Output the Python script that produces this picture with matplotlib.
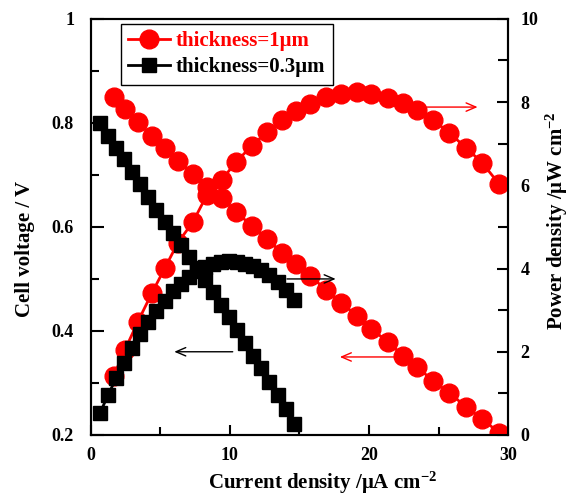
import numpy as np
import matplotlib
matplotlib.use("Agg")
import matplotlib.pyplot as plt
from matplotlib.ticker import MultipleLocator, FuncFormatter

plt.rcParams['font.family'] = ['Liberation Serif', 'DejaVu Serif']
plt.rcParams['font.weight'] = 'bold'
plt.rcParams['mathtext.fontset'] = 'custom'
plt.rcParams['mathtext.rm'] = 'Liberation Serif:bold'
plt.rcParams['mathtext.bf'] = 'Liberation Serif:bold'
plt.rcParams['mathtext.default'] = 'rm'

# thickness = 1 um (red circles)
i_thick = [1.65, 2.45, 3.38, 4.39, 5.32, 6.26, 7.34, 8.35, 9.42, 10.43, 11.58, 12.66, 13.74, 14.75,
           15.76, 16.91, 17.99, 19.14, 20.14, 21.37, 22.45, 23.45, 24.60, 25.76, 26.98, 28.13, 29.35]
v_thick = [0.850, 0.827, 0.802, 0.775, 0.752, 0.727, 0.702, 0.677, 0.656, 0.629, 0.602, 0.577, 0.550, 0.529,
           0.506, 0.479, 0.454, 0.429, 0.404, 0.379, 0.352, 0.331, 0.304, 0.281, 0.254, 0.231, 0.204]
p_thick = [1.42, 2.04, 2.72, 3.41, 4.01, 4.62, 5.12, 5.77, 6.13, 6.56, 6.95, 7.28, 7.57, 7.79,
           7.96, 8.13, 8.20, 8.25, 8.20, 8.10, 7.98, 7.81, 7.57, 7.26, 6.90, 6.54, 6.03]

# thickness = 0.3 um (black squares)
i_thin = [0.65, 1.23, 1.81, 2.39, 2.97, 3.55, 4.14, 4.72, 5.30, 5.88, 6.46, 7.04, 7.62,
          8.20, 8.78, 9.36, 9.94, 10.52, 11.10, 11.68, 12.26, 12.84, 13.42, 14.00, 14.60]
v_thin = [0.800, 0.775, 0.752, 0.730, 0.705, 0.682, 0.658, 0.633, 0.610, 0.588, 0.566, 0.543, 0.521,
          0.498, 0.474, 0.450, 0.426, 0.401, 0.377, 0.352, 0.328, 0.302, 0.277, 0.250, 0.222]
p_thin = [0.52, 0.95, 1.36, 1.74, 2.09, 2.42, 2.72, 2.99, 3.23, 3.45, 3.64, 3.80, 3.94,
          4.03, 4.10, 4.15, 4.17, 4.16, 4.12, 4.06, 3.96, 3.84, 3.68, 3.48, 3.25]

fig = plt.figure(figsize=(5.71, 4.96), dpi=100)
ax = fig.add_axes([0.159, 0.123, 0.731, 0.839])
ax2 = ax.twinx()

red = '#ff0000'
l1, = ax2.plot(i_thick, v_thick, '-o', color=red, ms=13.5, lw=2, transform=ax.transData, zorder=2,
               label='thickness=1\u03bcm')
ax2.plot(i_thick, p_thick, '-o', color=red, ms=13.5, lw=2, zorder=2)
l2, = ax2.plot(i_thin, v_thin, '-s', color='black', ms=9.5, lw=2, transform=ax.transData, zorder=3,
               label='thickness=0.3\u03bcm')
ax2.plot(i_thin, p_thin, '-s', color='black', ms=9.5, lw=2, zorder=3)
ax.set_xlim(0, 30)
ax.set_ylim(0.2, 1.0)
ax2.set_ylim(0, 10)

# arrows pointing at the axis each curve belongs to
arr = dict(arrowstyle='->, head_length=0.7, head_width=0.3', lw=1)
ax2.annotate('', xy=(28.0, 7.88), xytext=(23.9, 7.88), arrowprops=dict(color=red, **arr))
ax.annotate('', xy=(17.7, 0.350), xytext=(22.45, 0.350), arrowprops=dict(color=red, **arr))
ax2.annotate('', xy=(17.8, 3.75), xytext=(13.9, 3.75), arrowprops=dict(color='black', **arr))
ax.annotate('', xy=(5.8, 0.360), xytext=(10.4, 0.360), arrowprops=dict(color='black', **arr))

ax.xaxis.set_major_locator(MultipleLocator(10))
ax.xaxis.set_minor_locator(MultipleLocator(5))
ax.yaxis.set_major_locator(MultipleLocator(0.2))
ax.yaxis.set_minor_locator(MultipleLocator(0.1))
ax.yaxis.set_major_formatter(FuncFormatter(lambda v, p: '1' if abs(v - 1) < 1e-6 else '%.1f' % v))
ax2.yaxis.set_major_locator(MultipleLocator(2))
ax2.yaxis.set_minor_locator(MultipleLocator(1))

ax.tick_params(axis='x', which='both', direction='in', top=False, labelsize=13, pad=9)
ax.tick_params(axis='x', which='major', length=7, width=1.5)
ax.tick_params(axis='x', which='minor', length=6, width=1.5)
ax.tick_params(axis='y', which='both', direction='in', right=False, labelsize=13, pad=12)
ax.tick_params(axis='y', which='major', length=9, width=1.5)
ax.tick_params(axis='y', which='minor', length=6, width=1.5)
ax2.tick_params(axis='y', which='both', direction='in', labelsize=13, pad=9)
ax2.tick_params(axis='y', which='major', length=8, width=1.5)
ax2.tick_params(axis='y', which='minor', length=7, width=1.5)

for a in (ax, ax2):
    for s in a.spines.values():
        s.set_linewidth(1.5)

ax.set_xlabel('Current density /\u03bcA cm$^{-2}$', fontsize=15, fontweight='bold')
ax.xaxis.set_label_coords(0.556, -0.083)
ax.set_ylabel('Cell voltage / V', fontsize=15, fontweight='bold')
ax.yaxis.set_label_coords(-0.134, 0.447)
ax2.set_ylabel('Power density /\u03bcW cm$^{-2}$', fontsize=15, fontweight='bold')
ax2.yaxis.set_label_coords(1.086, 0.514)

leg = ax2.legend(handles=[l1, l2], loc='upper left', bbox_to_anchor=(0.072, 0.988), borderaxespad=0,
                 fancybox=False, edgecolor='black', framealpha=1, fontsize=15,
                 handlelength=2.0, borderpad=0.35, labelspacing=0.3, handletextpad=0.3)
leg.get_frame().set_linewidth(1)
leg.get_texts()[0].set_color(red)
leg.get_texts()[1].set_color('black')

fig.savefig('out.png', dpi=100)
